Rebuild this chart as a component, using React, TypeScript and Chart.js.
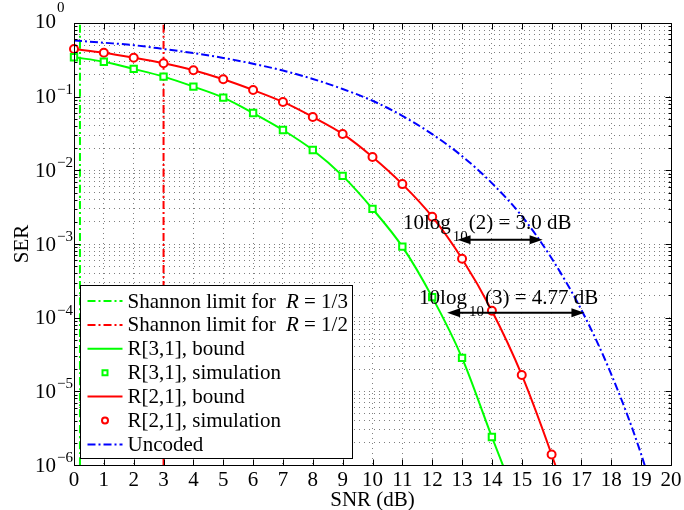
import React, { useEffect, useRef } from 'react';
import { Chart, registerables } from 'chart.js';

Chart.register(...registerables);

const FONT = '"Liberation Serif", "Times New Roman", Times, serif';
const FS = 21;
const FS_SMALL = 15;

// ---------------- data ----------------
const snrR31 = [0, 1, 2, 3, 4, 5, 6, 7, 8, 9, 10, 11, 12, 13, 14, 15];
const serR31Bound = [0.343, 0.298, 0.238, 0.187, 0.137, 0.097, 0.06, 0.0353, 0.0189, 0.0084, 0.003, 9.2e-4, 1.9e-4, 2.85e-5, 2.4e-6, 2.2e-7];
const snrR31Sim = [0, 1, 2, 3, 4, 5, 6, 7, 8, 9, 10, 11, 12, 13, 14];
const serR31Sim = [0.343, 0.298, 0.238, 0.187, 0.137, 0.097, 0.06, 0.0353, 0.0189, 0.0084, 0.003, 9.2e-4, 1.9e-4, 2.85e-5, 2.4e-6];

const snrR21 = [0, 1, 2, 3, 4, 5, 6, 7, 8, 9, 10, 11, 12, 13, 14, 15, 16, 17];
const serR21Bound = [0.444, 0.395, 0.338, 0.284, 0.228, 0.172, 0.123, 0.0848, 0.053, 0.0312, 0.0152, 0.0065, 0.00235, 6.3e-4, 1.24e-4, 1.67e-5, 1.39e-6, 8.7e-8];
const snrR21Sim = [0, 1, 2, 3, 4, 5, 6, 7, 8, 9, 10, 11, 12, 13, 14, 15, 16];
const serR21Sim = [0.444, 0.395, 0.338, 0.284, 0.228, 0.172, 0.123, 0.0848, 0.053, 0.0312, 0.0152, 0.0065, 0.00235, 6.3e-4, 1.24e-4, 1.67e-5, 1.39e-6];

const snrUncoded = [0, 1, 2, 3, 4, 5, 6, 7, 8, 9, 10, 11, 12, 13, 14, 15, 16, 17, 18, 19, 20];
const serUncoded = [0.58, 0.54, 0.5, 0.444, 0.39, 0.336, 0.28, 0.226, 0.174, 0.127, 0.088, 0.055, 0.031, 0.0156, 0.0067, 0.0024, 6.4e-4, 1.27e-4, 1.7e-5, 1.4e-6, 6e-8];

const shannonLimits = [0.2, 3]; // dB, for R = 1/3 and R = 1/2
const serRange = [1e-6, 1];
const snrRange = [0, 20];

const xTickValues = [0, 1, 2, 3, 4, 5, 6, 7, 8, 9, 10, 11, 12, 13, 14, 15, 16, 17, 18, 19, 20];
const yDecadeExponents = [-6, -5, -4, -3, -2, -1, 0];
const yMinorMultipliers = [2, 3, 4, 5, 6, 7, 8, 9];

const gapArrows = [
  { from: 12.85, to: 15.7, ser: 1.14e-3, head: '10log', sub: '10', tail: '(2) = 3.0 dB', labelSnr: 11.02, labelSer: 1.6e-3 },
  { from: 12.5, to: 17.1, ser: 1.17e-4, head: '10log', sub: '10', tail: '(3) = 4.77 dB', labelSnr: 11.56, labelSer: 1.54e-4 },
];

const legendLabels = [
  'Shannon limit for R = 1/3',
  'Shannon limit for R = 1/2',
  'R[3,1], bound',
  'R[3,1], simulation',
  'R[2,1], bound',
  'R[2,1], simulation',
  'Uncoded',
];

// ---------------- helpers ----------------
const yTickValues: number[] = [];
yDecadeExponents.forEach((e) => {
  yTickValues.push(Math.pow(10, e));
  if (e < 0) yMinorMultipliers.forEach((m) => yTickValues.push(m * Math.pow(10, e)));
});
yTickValues.sort((a, b) => a - b);

const zip = (xs: number[], ys: number[]) => xs.map((x, i) => ({ x, y: ys[i] }));
const DASHDOT = [8, 3, 2, 3];
const GREEN = '#00ff00';
const RED = '#ff0000';
const BLUE = '#0000ff';
const F = `${FS}px ${FONT}`;
const FI = `italic ${FS}px ${FONT}`;
const FSM = `${FS_SMALL}px ${FONT}`;

function drawRich(ctx: CanvasRenderingContext2D, parts: { t: string; font: string; dx?: number; dy?: number }[], x: number, y: number) {
  let cx = x;
  parts.forEach((p) => {
    ctx.font = p.font;
    cx += p.dx || 0;
    ctx.fillText(p.t, cx, y + (p.dy || 0));
    cx += ctx.measureText(p.t).width;
  });
  return cx;
}

function richLabel(label: string) {
  const idx = label.indexOf(' R = ');
  if (idx >= 0) {
    return [
      { t: label.slice(0, idx + 1), font: F },
      { t: 'R', font: FI, dx: 5 },
      { t: label.slice(idx + 2), font: F },
    ];
  }
  return [{ t: label, font: F }];
}

const decorPlugin = {
  id: 'decor',
  afterDatasetsDraw(chart: any) {
    const { ctx, scales } = chart;
    const xs = scales.x;
    const ys = scales.y;
    ctx.save();
    ctx.strokeStyle = '#000';
    ctx.fillStyle = '#000';
    gapArrows.forEach((ar) => {
      const py = ys.getPixelForValue(ar.ser);
      const x1 = xs.getPixelForValue(ar.from);
      const x2 = xs.getPixelForValue(ar.to);
      const hl = 13;
      const hw = 4.5;
      ctx.lineWidth = 2;
      ctx.beginPath();
      ctx.moveTo(x1 + hl - 1, py);
      ctx.lineTo(x2 - hl + 1, py);
      ctx.stroke();
      ctx.beginPath();
      ctx.moveTo(x1, py);
      ctx.lineTo(x1 + hl, py - hw);
      ctx.lineTo(x1 + hl, py + hw);
      ctx.closePath();
      ctx.fill();
      ctx.beginPath();
      ctx.moveTo(x2, py);
      ctx.lineTo(x2 - hl, py - hw);
      ctx.lineTo(x2 - hl, py + hw);
      ctx.closePath();
      ctx.fill();
      ctx.textAlign = 'left';
      ctx.textBaseline = 'alphabetic';
      const lx = xs.getPixelForValue(ar.labelSnr);
      const ly = ys.getPixelForValue(ar.labelSer);
      drawRich(
        ctx,
        [
          { t: ar.head, font: F },
          { t: ar.sub, font: FSM, dx: 2, dy: 12 },
          { t: ar.tail, font: F, dx: 1 },
        ],
        lx,
        ly
      );
    });
    ctx.restore();
  },
  afterDraw(chart: any) {
    const { ctx, chartArea: a, scales } = chart;
    const xs = scales.x;
    const ys = scales.y;
    ctx.save();

    // ---- legend ----
    const rowH = 23.9;
    const n = chart.data.datasets.length;
    ctx.textBaseline = 'middle';
    ctx.textAlign = 'left';
    let maxW = 0;
    chart.data.datasets.forEach((ds: any) => {
      let w = 0;
      richLabel(ds.label).forEach((p: any) => {
        ctx.font = p.font;
        w += ctx.measureText(p.t).width + (p.dx || 0);
      });
      maxW = Math.max(maxW, w);
    });
    const boxL = Math.round(a.left) + 6.5;
    const boxW = Math.round(47 + maxW + 5);
    const boxH = Math.round(n * rowH + 6);
    const boxB = Math.round(a.bottom) - 6.5;
    const boxT = boxB - boxH;
    ctx.fillStyle = '#fff';
    ctx.fillRect(boxL, boxT, boxW, boxH);
    ctx.strokeStyle = '#000';
    ctx.lineWidth = 1;
    ctx.strokeRect(boxL, boxT, boxW, boxH);
    chart.data.datasets.forEach((ds: any, i: number) => {
      const cy = boxT + 15.5 + i * rowH;
      const sx1 = boxL + 7;
      const sx2 = boxL + 42;
      if (ds.showLine !== false) {
        ctx.strokeStyle = ds.borderColor;
        ctx.lineWidth = ds.borderWidth;
        ctx.setLineDash(ds.borderDash || []);
        ctx.beginPath();
        ctx.moveTo(sx1, cy);
        ctx.lineTo(sx2, cy);
        ctx.stroke();
        ctx.setLineDash([]);
      } else {
        const mx = (sx1 + sx2) / 2;
        ctx.strokeStyle = ds.borderColor;
        ctx.fillStyle = '#fff';
        ctx.lineWidth = 2;
        ctx.beginPath();
        if (ds.pointStyle === 'rect') ctx.rect(mx - 2.5, cy - 2.5, 5, 5);
        else ctx.arc(mx, cy, 3, 0, Math.PI * 2);
        ctx.fill();
        ctx.stroke();
      }
      ctx.fillStyle = '#000';
      drawRich(ctx, richLabel(ds.label), boxL + 47, cy + 1);
    });

    // ---- axes box ----
    ctx.strokeStyle = '#000';
    ctx.lineWidth = 1;
    const L = Math.round(a.left) + 0.5;
    const R = Math.round(a.right) + 0.5;
    const T = Math.round(a.top) + 0.5;
    const B = Math.round(a.bottom) + 0.5;
    ctx.beginPath();
    ctx.rect(L, T, R - L, B - T);
    xs.ticks.forEach((t: any) => {
      const px = Math.round(xs.getPixelForValue(t.value)) + 0.5;
      ctx.moveTo(px, B);
      ctx.lineTo(px, B - 6);
      ctx.moveTo(px, T);
      ctx.lineTo(px, T + 6);
    });
    ys.ticks.forEach((t: any) => {
      const py = Math.round(ys.getPixelForValue(t.value)) + 0.5;
      const len = t.major ? 6 : 3;
      ctx.moveTo(L, py);
      ctx.lineTo(L + len, py);
      ctx.moveTo(R, py);
      ctx.lineTo(R - len, py);
    });
    ctx.stroke();

    // ---- tick labels ----
    ctx.fillStyle = '#000';
    ctx.font = F;
    ctx.textAlign = 'center';
    ctx.textBaseline = 'alphabetic';
    xs.ticks.forEach((t: any) => {
      ctx.fillText(String(t.value), xs.getPixelForValue(t.value), a.bottom + 21);
    });
    ctx.textAlign = 'left';
    ys.ticks.forEach((t: any) => {
      if (!t.major) return;
      const py = ys.getPixelForValue(t.value);
      const e = Math.round(Math.log10(t.value));
      const lx = a.left - 39;
      const base = e === 0 ? py + 5 : py + 6.5;
      const dy = e === 0 ? -16 : -9.5;
      drawRich(
        ctx,
        [
          { t: '10', font: F },
          { t: String(e).replace('-', '\u2212'), font: FSM, dx: 1, dy },
        ],
        lx,
        base
      );
    });

    // ---- axis titles ----
    ctx.font = F;
    ctx.textAlign = 'center';
    ctx.fillText('SNR (dB)', (a.left + a.right) / 2, a.bottom + 41);
    ctx.save();
    ctx.translate(a.left - 46, (a.top + a.bottom) / 2);
    ctx.rotate(-Math.PI / 2);
    ctx.fillText('SER', 0, 0);
    ctx.restore();

    ctx.restore();
  },
};

export default function App() {
  const ref = useRef<HTMLCanvasElement | null>(null);
  useEffect(() => {
    if (!ref.current) return;
    const lineDs = (label: string, data: any[], color: string, dash: number[], order: number) => ({
      label,
      data,
      borderColor: color,
      backgroundColor: color,
      borderWidth: 2,
      borderDash: dash,
      pointRadius: 0,
      showLine: true,
      cubicInterpolationMode: 'monotone',
      clip: 0,
      order,
    });
    const pointDs = (label: string, data: any[], color: string, style: string, radius: number) => ({
      label,
      data,
      borderColor: color,
      backgroundColor: '#ffffff',
      borderWidth: 2,
      pointStyle: style,
      pointRadius: radius,
      showLine: false,
      clip: 6,
      order: 0,
    });
    const chart = new Chart(ref.current, {
      type: 'line',
      data: {
        datasets: [
          lineDs(legendLabels[0], [{ x: shannonLimits[0], y: serRange[0] }, { x: shannonLimits[0], y: serRange[1] }], GREEN, DASHDOT, 2),
          lineDs(legendLabels[1], [{ x: shannonLimits[1], y: serRange[0] }, { x: shannonLimits[1], y: serRange[1] }], RED, DASHDOT, 2),
          lineDs(legendLabels[2], zip(snrR31, serR31Bound), GREEN, [], 1),
          pointDs(legendLabels[3], zip(snrR31Sim, serR31Sim), GREEN, 'rect', 4.5),
          lineDs(legendLabels[4], zip(snrR21, serR21Bound), RED, [], 1),
          pointDs(legendLabels[5], zip(snrR21Sim, serR21Sim), RED, 'circle', 4),
          lineDs(legendLabels[6], zip(snrUncoded, serUncoded), BLUE, DASHDOT, 1),
        ] as any,
      },
      options: {
        animation: false,
        responsive: false,
        devicePixelRatio: 1,
        layout: { padding: { left: 74, top: 23, right: 13, bottom: 45 } },
        plugins: { legend: { display: false }, tooltip: { enabled: false } },
        scales: {
          x: {
            type: 'linear',
            min: snrRange[0],
            max: snrRange[1],
            afterBuildTicks: (s: any) => {
              s.ticks = xTickValues.map((v) => ({ value: v }));
            },
            ticks: { display: false },
            grid: { color: 'rgba(0,0,0,0.5)', lineWidth: 1, drawTicks: false },
            border: { display: false, dash: [1, 4] },
          },
          y: {
            type: 'logarithmic',
            min: serRange[0],
            max: serRange[1],
            afterBuildTicks: (s: any) => {
              s.ticks = yTickValues.map((v) => ({ value: v, major: Math.abs(Math.log10(v) - Math.round(Math.log10(v))) < 1e-9 }));
            },
            ticks: { display: false },
            grid: { color: 'rgba(0,0,0,0.5)', lineWidth: 1, drawTicks: false },
            border: { display: false, dash: [1, 4] },
          },
        },
      } as any,
      plugins: [decorPlugin],
    });
    return () => chart.destroy();
  }, []);
  return (
    <div style={{ position: 'fixed', left: 0, top: 0, width: 684, height: 510, background: '#fff' }}>
      <canvas ref={ref} width={684} height={510} style={{ display: 'block' }} />
    </div>
  );
}
